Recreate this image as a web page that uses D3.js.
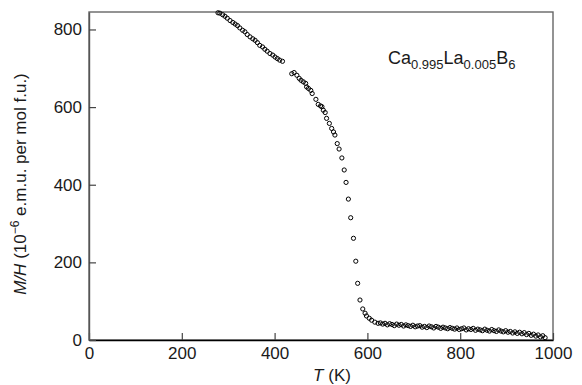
<!DOCTYPE html>
<html>
<head>
<meta charset="utf-8">
<script src="https://cdn.jsdelivr.net/npm/d3@7"></script>
<style>
  body { margin: 0; background: #fff; }
  text { font-family: "Liberation Sans", Arial, sans-serif; fill: #1a1a1a; }
</style>
</head>
<body>
<svg width="582" height="385"></svg>
<script>
// temperature (K) and M/H (1e-6 emu per mol f.u.)
const tempK = [
  278, 282, 288, 293, 298, 304, 310, 315, 320, 325, 331, 336, 341, 347, 353, 358,
  363, 368, 374, 379, 384, 390, 396, 401, 406, 411, 417,
  437, 442, 448, 453, 457, 462, 467, 469, 473, 478, 481, 489, 494, 499, 502, 505,
  509, 512, 518, 523, 527, 530, 535, 539, 545, 550, 554, 559, 564, 570, 575, 579,
  584, 590, 595, 598, 604, 609, 616, 623,
  628, 633, 638, 643, 648, 653, 658, 663, 668, 673, 678, 683, 688, 693, 698, 703,
  708, 713, 718, 723, 728, 733, 738, 743, 748, 753, 758, 763, 768, 773, 778, 783,
  788, 793, 798, 803, 808, 813, 818, 823, 828, 833, 838, 843, 848, 853, 858, 863,
  868, 873, 878, 883, 888, 893, 898, 903, 908, 913, 918, 923, 928, 933, 938, 943,
  948, 953, 958, 963, 968, 973, 978, 983
];
const mOverH = [
  843, 842, 838, 834, 829, 823, 818, 814, 810, 804, 798, 794, 787, 781, 776, 772,
  766, 759, 755, 749, 744, 738, 734, 729, 725, 721, 718,
  686, 689, 682, 674, 669, 665, 661, 652, 648, 643, 635, 620, 607, 603, 601, 592,
  586, 571, 558, 545, 536, 528, 506, 492, 469, 438, 406, 363, 315, 262, 203, 146,
  103, 80, 69, 62, 56, 51, 46, 43,
  44, 41, 43, 39, 42, 40, 37, 41, 38, 40, 36, 39, 37, 35, 38, 34,
  36, 37, 33, 35, 32, 36, 34, 31, 35, 33, 30, 33, 31, 29, 32, 30,
  28, 31, 27, 29, 31, 26, 29, 27, 30, 25, 28, 26, 24, 28, 25, 23,
  27, 24, 22, 26, 23, 21, 24, 20, 22, 18, 21, 17, 20, 16, 19, 14,
  17, 12, 15, 10, 13, 8, 11, 6
];
const xTicks = [0, 200, 400, 600, 800, 1000];
const yTicks = [0, 200, 400, 600, 800];

const data = tempK.map((t, i) => ({ T: t, M: mOverH[i] }));

const margin = { left: 89, right: 29, top: 12, bottom: 45 };
const svg = d3.select('svg');
const width = +svg.attr('width');
const height = +svg.attr('height');
const innerWidth = width - margin.left - margin.right;
const innerHeight = height - margin.top - margin.bottom;

const g = svg.append('g')
    .attr('transform', `translate(${margin.left},${margin.top})`);

const xScale = d3.scaleLinear().domain([0, 1000]).range([0, innerWidth]);
const yScale = d3.scaleLinear().domain([0, 845]).range([innerHeight, 0]);

// frame
g.append('rect')
    .attr('width', innerWidth)
    .attr('height', innerHeight)
    .attr('fill', 'none')
    .attr('stroke', '#666')
    .attr('stroke-width', 1.4);

const xAxis = d3.axisBottom(xScale)
    .tickValues(xTicks)
    .tickSizeInner(-7)
    .tickSizeOuter(0)
    .tickPadding(7)
    .tickFormat(d3.format('d'));
const yAxis = d3.axisLeft(yScale)
    .tickValues(yTicks)
    .tickSizeInner(-7)
    .tickSizeOuter(0)
    .tickPadding(7)
    .tickFormat(d3.format('d'));

const xAxisG = g.append('g')
    .attr('transform', `translate(0,${innerHeight})`)
    .call(xAxis);
const yAxisG = g.append('g').call(yAxis);

[xAxisG, yAxisG].forEach(a => {
  a.attr('font-size', 17).attr('font-family', null);
  a.selectAll('text').attr('fill', '#1a1a1a');
  a.selectAll('.tick line').attr('stroke', '#444').attr('stroke-width', 1.2);
});
xAxisG.select('.domain').attr('stroke', '#000').attr('stroke-width', 1.6);
yAxisG.select('.domain').attr('stroke', '#555').attr('stroke-width', 1.4);

// points
g.selectAll('circle').data(data)
  .enter().append('circle')
    .attr('cx', d => xScale(d.T))
    .attr('cy', d => yScale(d.M))
    .attr('r', 2.1)
    .attr('fill', 'none')
    .attr('stroke', '#000')
    .attr('stroke-width', 1);

// x label
const xl = svg.append('text')
    .attr('x', 332)
    .attr('y', 381)
    .attr('text-anchor', 'middle')
    .attr('font-size', 17);
xl.append('tspan').attr('font-style', 'italic').text('T');
xl.append('tspan').text(' (K)');

// y label
const yl = svg.append('text')
    .attr('transform', 'translate(26,184) rotate(-90)')
    .attr('text-anchor', 'middle')
    .attr('font-size', 17);
yl.append('tspan').attr('font-style', 'italic').text('M/H');
yl.append('tspan').text(' (10');
yl.append('tspan').attr('font-size', 12).attr('dy', -7).text('\u22126');
yl.append('tspan').attr('dy', 7).text(' e.m.u. per mol f.u.)');

// compound label
const lab = svg.append('text')
    .attr('x', 388)
    .attr('y', 64)
    .attr('font-size', 18);
const parts = [['Ca', false], ['0.995', true], ['La', false], ['0.005', true], ['B', false], ['6', true]];
let sub = false;
parts.forEach(([s, isSub]) => {
  const dy = isSub === sub ? 0 : (isSub ? 5 : -5);
  sub = isSub;
  lab.append('tspan')
      .attr('dy', dy)
      .attr('font-size', isSub ? 13 : 18)
      .text(s);
});
</script>
</body>
</html>
